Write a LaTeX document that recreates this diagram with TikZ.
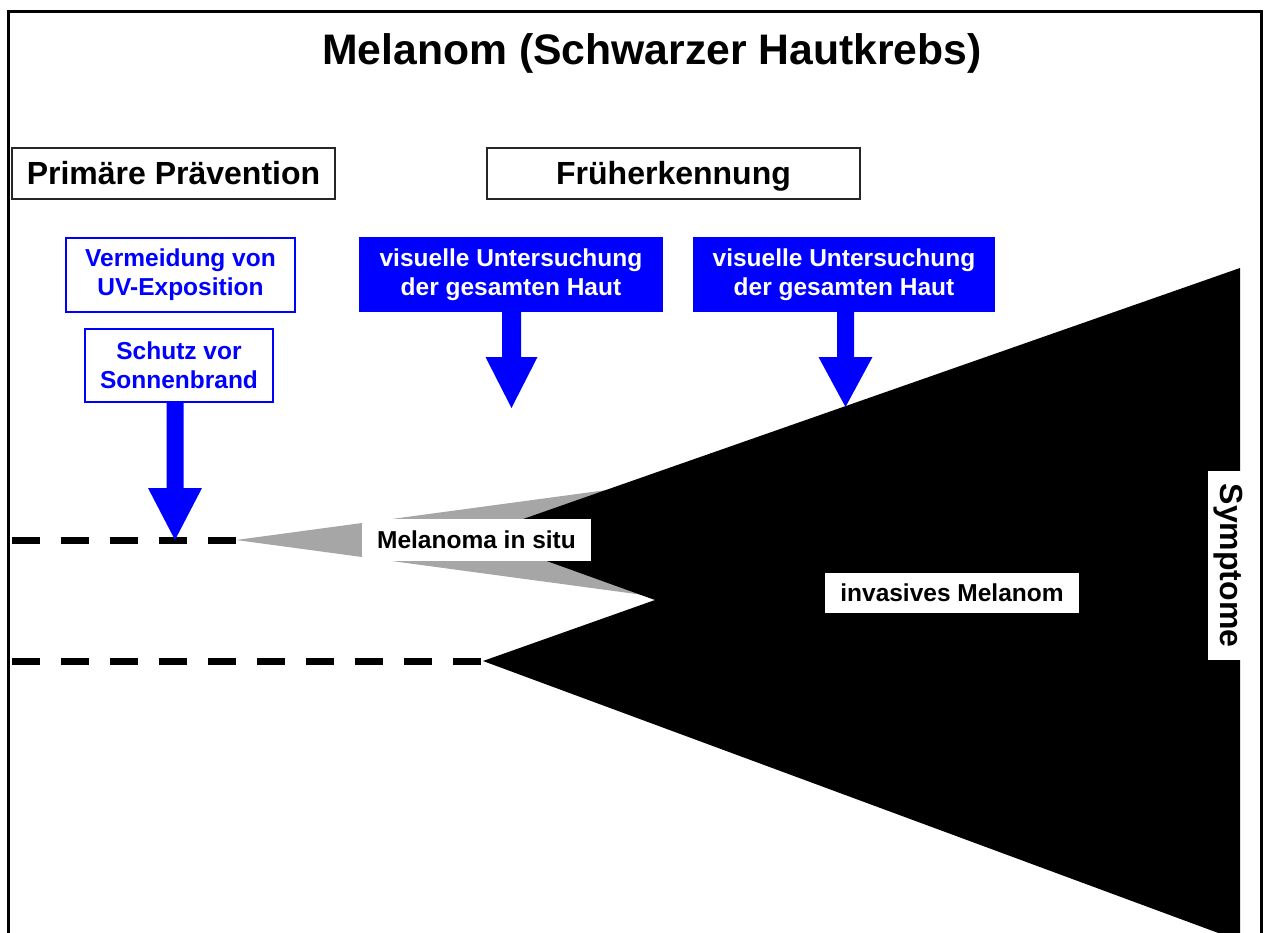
\documentclass[tikz,border=0pt]{standalone}
\usepackage{fontspec}
\setmainfont{Liberation Sans}
\usetikzlibrary{calc}
\definecolor{pblue}{RGB}{0,0,255}
\definecolor{wgrey}{RGB}{166,166,166}
\newcommand\fatarrow[5]{% #1 node, #2 tip, #3 shaft half width, #4 head half width, #5 head length
  \fill[pblue] let \p1=(#1.south), \p2=(#2) in
    (\x2-#3,\y1) -- (\x2+#3,\y1) -- (\x2+#3,\y2+#5) -- (\x2+#4,\y2+#5) -- (\x2,\y2)
    -- (\x2-#4,\y2+#5) -- (\x2-#3,\y2+#5) -- cycle;}
\begin{document}
\begin{tikzpicture}[x=1pt,y=-1pt,
  hdr/.style={draw=black!85, line width=1.5pt, fill=white, inner sep=0pt,
    text height=23pt, text depth=2pt,
    font=\fontsize{32}{36}\selectfont\bfseries},
  bbox/.style={draw=pblue, line width=1.5pt, fill=white, text=pblue, align=center, inner sep=0pt,
    font=\fontsize{24.5}{29}\selectfont\bfseries},
  fbox/.style={fill=pblue, text=white, align=center, inner sep=0pt,
    font=\fontsize{24.5}{29}\selectfont\bfseries},
  lbl/.style={fill=white, text=black, inner sep=0pt,
    font=\fontsize{24.5}{29}\selectfont\bfseries},
  dline/.style={line width=7pt, dash pattern=on 28pt off 21pt}]
\useasboundingbox (0,0) rectangle (1264,932);
\clip (0,0) rectangle (1264,932);
% frame
\draw[line width=3pt] (8,950) -- (8,11) -- (1261,11) -- (1261,950);
% coordinates
\coordinate (d1s) at (12,540);
\coordinate (ga) at (236,540);
\coordinate (d2s) at (12,661);
\coordinate (ba) at (483,661);
\coordinate (t1) at (175,540);
\coordinate (t2) at (511.5,408);
\coordinate (t3) at (845.5,407);
% grey wedge (in situ)
\fill[wgrey] (ga) -- (620,488.2) -- (600,540) -- (645,595.2) -- cycle;
% black invasive shape
\fill[black] (476,535.5) -- (1240,268) -- (1240,941) -- (ba) -- (655,600) -- cycle;
% dashed lines
\draw[dline] (d1s) -- (ga);
\draw[dline] (d2s) -- (ba);
% title
\node[font=\fontsize{42.7}{48}\selectfont\bfseries, anchor=base] (title) at (652,64) {Melanom (Schwarzer Hautkrebs)};
% headers
\node[hdr, minimum width=323pt, minimum height=51pt] (prim) at (173.5,173.5) {Primäre Prävention};
\node[hdr, minimum width=373pt, minimum height=51pt] (frueh) at (673.5,173.5) {Früherkennung};
% blue boxes
\node[bbox, minimum width=229pt, minimum height=74pt] (verm) at (180.5,275) {Vermeidung von\\UV-Exposition};
\node[bbox, minimum width=188pt, minimum height=73pt] (schutz) at (179,365.5) {Schutz vor\\Sonnenbrand};
\node[fbox, minimum width=304pt, minimum height=75pt] (vu1) at (511,274.5) {visuelle Untersuchung\\der gesamten Haut};
\node[fbox, minimum width=302pt, minimum height=75pt] (vu2) at (844,274.5) {visuelle Untersuchung\\der gesamten Haut};
% arrows
\fatarrow{schutz}{t1}{8.5pt}{27pt}{52pt}
\fatarrow{vu1}{t2}{9.5pt}{26pt}{51pt}
\fatarrow{vu2}{t3}{8.5pt}{27pt}{50pt}
% labels
\node[lbl, minimum width=229pt, minimum height=42pt] (insitu) at (476.5,540) {Melanoma in situ};
\node[lbl, minimum width=254pt, minimum height=40pt] (inv) at (952,593) {invasives Melanom};
\node[lbl, font=\fontsize{32}{36}\selectfont\bfseries, rotate=-90, minimum width=189pt, minimum height=40pt] (sym) at (1228,565.5) {Symptome};
\end{tikzpicture}
\end{document}
